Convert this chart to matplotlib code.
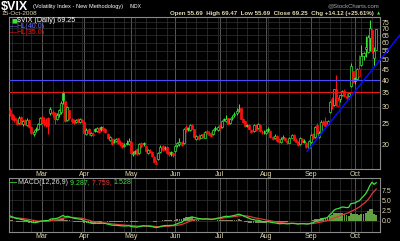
import numpy as np
import pandas as pd
import matplotlib
matplotlib.use("Agg")
import matplotlib.pyplot as plt
from matplotlib.ticker import NullLocator

plt.rcParams["font.family"] = ["Liberation Sans", "DejaVu Sans"]

# trading days 8 Feb - 15 Oct 2008 (NYSE holidays removed)
holidays = ["2008-02-18", "2008-03-21", "2008-05-26", "2008-07-04", "2008-09-01"]
month_names = ["Mar", "Apr", "May", "Jun", "Jul", "Aug", "Sep", "Oct"]

# $VIX daily candles (Feb, Mar, Apr, May, Jun, Jul, Aug, Sep, Oct)
opens = [
    28.9, 27.6, 26.6, 26.1, 25.2, 26.9, 24.8, 25.9, 24.6, 26.0, 24.2, 22.3, 23.6, 23.5, 25.0,
    26.8, 25.9, 25.3, 26.5, 27.9, 28.4, 28.0, 26.4, 27.6, 28.2, 35.0, 31.9, 26.0, 28.9, 26.2, 25.9, 25.4, 26.2, 25.5, 26.0,
    25.4, 22.3, 23.6, 22.2, 22.0, 23.5, 23.0, 23.9, 24.0, 23.8, 23.6, 22.4, 21.0, 21.2, 20.4, 20.7, 21.4, 20.6, 20.2, 19.7, 20.3, 20.0,
    20.5, 18.0, 18.6, 18.9, 18.1, 20.2, 20.3, 19.6, 18.2, 18.5, 18.3, 17.4, 16.2, 17.0, 18.3, 19.6, 19.3, 19.5, 18.4, 18.3, 18.1,
    18.6, 19.8, 20.1, 20.6, 20.2, 24.0, 23.9, 23.4, 24.7, 23.5, 21.2, 21.9, 21.4, 22.3, 21.4, 23.1, 22.2, 22.6, 22.3, 23.9, 23.4,
    24.5, 24.1, 26.4, 25.6, 26.5, 25.1, 26.5, 27.3, 27.9, 29.0, 29.6, 26.3, 25.6, 24.7, 24.6, 23.4, 23.0, 24.6, 23.8, 24.6, 22.6, 22.8,
    22.6, 23.6, 23.2, 21.7, 21.3, 21.9, 20.9, 20.4, 21.4, 21.5, 20.8, 20.3, 21.5, 22.1, 21.0, 20.5, 20.0, 21.2, 20.8, 20.3, 19.3,
    20.5, 22.3, 21.6, 24.5, 21.7, 22.9, 25.4, 25.6, 24.8, 28.2, 32.6, 30.6, 36.5, 30.4, 32.6, 34.1, 35.4, 33.7, 33.6, 37.4, 44.3,
    40.8, 40.5, 41.9, 47.0, 51.8, 56.0, 54.5, 63.0, 68.5, 50.8, 55.69,
]
highs = [
    29.6, 28.1, 27.4, 26.4, 27.0, 27.2, 26.0, 26.3, 26.7, 26.4, 24.4, 23.4, 24.1, 25.3, 26.9,
    27.5, 26.9, 26.5, 26.9, 29.8, 29.0, 28.3, 27.9, 29.4, 31.8, 35.6, 32.0, 30.1, 29.0, 26.6, 26.4, 26.4, 26.6, 26.7, 26.4,
    25.6, 23.9, 23.8, 22.9, 22.8, 23.9, 24.2, 24.2, 24.3, 24.4, 23.9, 22.6, 21.9, 21.3, 21.1, 21.5, 21.5, 20.9, 20.4, 20.3, 20.9, 21.3,
    20.6, 18.6, 18.8, 19.1, 20.3, 20.5, 20.6, 19.8, 19.0, 18.9, 18.5, 17.6, 16.8, 18.4, 19.8, 19.9, 19.6, 19.6, 18.6, 18.5, 18.3,
    19.9, 20.6, 21.3, 20.8, 23.9, 24.5, 24.2, 24.9, 24.9, 23.7, 22.1, 22.3, 22.3, 22.5, 23.2, 23.4, 23.2, 22.8, 23.6, 24.3, 24.3,
    25.2, 26.1, 26.7, 27.4, 26.7, 26.5, 27.4, 28.4, 29.5, 31.0, 29.7, 26.6, 25.8, 25.0, 24.9, 23.6, 24.8, 24.8, 25.1, 24.8, 23.3, 23.4,
    23.5, 24.2, 23.4, 21.9, 22.3, 22.1, 21.3, 21.6, 22.0, 21.7, 21.0, 21.6, 22.4, 22.3, 21.3, 20.8, 21.7, 21.5, 21.1, 20.6, 20.9,
    22.4, 22.5, 24.3, 25.1, 23.1, 25.9, 26.1, 26.8, 26.0, 31.8, 33.5, 36.5, 42.2, 33.4, 34.1, 36.0, 36.2, 34.9, 35.0, 48.4, 44.4,
    41.6, 45.6, 52.6, 58.2, 54.2, 64.3, 64.9, 76.9, 69.5, 57.5, 69.47,
]
lows = [
    27.2, 26.0, 25.4, 24.6, 24.9, 24.8, 24.4, 24.5, 24.3, 23.8, 22.4, 21.9, 22.8, 23.3, 24.8,
    25.1, 24.3, 24.0, 22.3, 27.5, 26.8, 24.9, 25.9, 26.9, 27.8, 30.9, 25.5, 25.6, 26.0, 25.2, 24.9, 25.1, 25.2, 25.2, 25.3,
    22.5, 22.0, 22.2, 21.9, 21.8, 22.9, 22.8, 22.6, 23.1, 23.0, 22.6, 21.1, 20.8, 19.9, 20.2, 20.4, 20.1, 19.7, 19.3, 19.4, 19.8, 19.9,
    18.0, 17.6, 18.0, 17.8, 18.0, 19.3, 19.7, 18.3, 17.9, 18.1, 17.5, 16.3, 16.2, 16.9, 18.1, 18.6, 18.8, 18.0, 17.7, 17.6, 17.4,
    18.4, 19.4, 19.7, 19.6, 20.1, 22.9, 23.0, 23.2, 23.5, 21.4, 21.0, 21.0, 21.3, 21.4, 21.3, 22.4, 22.0, 21.7, 22.1, 23.2, 23.1,
    23.4, 23.9, 25.6, 25.4, 24.8, 24.9, 26.0, 26.9, 27.5, 28.3, 26.2, 25.2, 24.2, 24.0, 23.5, 22.5, 22.8, 23.2, 23.6, 22.8, 22.3, 22.4,
    22.4, 22.9, 21.4, 20.9, 21.1, 20.5, 20.2, 20.3, 21.1, 20.7, 20.1, 20.2, 21.3, 20.7, 20.4, 19.6, 19.9, 20.4, 20.3, 19.1, 19.2,
    20.2, 21.1, 21.5, 22.3, 21.3, 22.7, 24.5, 24.1, 24.6, 27.9, 29.2, 30.3, 30.1, 30.2, 31.6, 33.7, 33.4, 32.4, 32.5, 37.2, 38.9,
    38.5, 40.2, 41.4, 46.4, 49.6, 51.2, 53.6, 54.9, 53.6, 46.5, 55.69,
]
closes = [
    28.0, 26.3, 25.9, 25.0, 26.7, 25.0, 25.6, 24.9, 25.9, 24.0, 22.6, 22.9, 23.4, 24.9, 26.5,
    25.5, 24.9, 24.6, 24.3, 29.4, 27.6, 26.3, 27.3, 28.9, 31.2, 32.2, 25.8, 29.8, 26.6, 25.8, 25.3, 25.9, 25.7, 26.3, 25.6,
    22.7, 23.4, 22.5, 22.5, 22.4, 23.2, 23.8, 22.9, 23.5, 23.3, 22.8, 21.3, 21.6, 20.1, 20.6, 21.2, 20.3, 20.0, 19.5, 19.9, 20.1, 20.8,
    18.2, 18.2, 18.3, 18.0, 20.0, 19.7, 20.0, 18.5, 18.8, 18.4, 17.6, 16.5, 16.4, 18.1, 19.4, 18.8, 19.1, 18.1, 17.9, 18.0, 17.8,
    19.6, 20.3, 20.4, 19.9, 23.6, 23.4, 23.6, 24.6, 23.7, 21.6, 21.8, 21.2, 22.0, 21.6, 22.8, 22.6, 22.4, 21.9, 23.4, 23.5, 24.0,
    23.9, 25.8, 26.0, 26.2, 25.0, 26.3, 26.9, 27.8, 28.6, 29.3, 26.4, 25.5, 24.4, 24.4, 23.7, 22.8, 24.5, 23.4, 24.9, 23.0, 22.7, 22.9,
    23.1, 23.4, 21.6, 21.2, 21.9, 20.7, 20.5, 21.2, 21.6, 20.9, 20.4, 21.3, 22.0, 20.9, 20.6, 19.8, 21.4, 20.6, 20.6, 19.4, 20.7,
    22.0, 21.4, 24.0, 22.6, 22.6, 25.5, 24.9, 24.4, 25.7, 31.7, 30.3, 36.2, 33.1, 32.1, 33.9, 35.7, 33.8, 32.8, 34.7, 46.7, 39.4,
    39.8, 45.3, 45.1, 52.1, 53.7, 57.5, 63.9, 69.95, 55.0, 55.1, 69.25,
]

# MACD(12,26,9) panel
macd_line = [
    1.2, 1.0, 0.8, 0.6, 0.55, 0.4, 0.3, 0.15, 0.1, -0.05, -0.25, -0.35, -0.4, -0.3, -0.1,
    0.0, 0.05, 0.1, 0.1, 0.45, 0.55, 0.55, 0.65, 0.8, 1.1, 1.35, 1.0, 1.15, 1.0, 0.85, 0.7, 0.6, 0.5, 0.45, 0.35,
    0.0, -0.15, -0.35, -0.5, -0.6, -0.6, -0.55, -0.6, -0.55, -0.55, -0.6, -0.75, -0.85, -1.0, -1.05, -1.05, -1.1, -1.15, -1.2, -1.2, -1.2, -1.15,
    -1.3, -1.4, -1.45, -1.5, -1.35, -1.25, -1.15, -1.2, -1.2, -1.25, -1.35, -1.5, -1.6, -1.5, -1.3, -1.2, -1.1, -1.1, -1.1, -1.05, -1.05,
    -0.85, -0.65, -0.45, -0.35, 0.1, 0.4, 0.6, 0.9, 1.0, 0.85, 0.75, 0.6, 0.55, 0.45, 0.5, 0.5, 0.45, 0.35, 0.45, 0.55, 0.7,
    0.75, 0.9, 1.05, 1.15, 1.1, 1.15, 1.25, 1.35, 1.5, 1.65, 1.5, 1.3, 1.05, 0.85, 0.65, 0.4, 0.35, 0.2, 0.2, 0.05, -0.1, -0.2,
    -0.2, -0.15, -0.3, -0.4, -0.45, -0.55, -0.65, -0.65, -0.6, -0.65, -0.7, -0.65, -0.55, -0.6, -0.65, -0.75, -0.65, -0.65, -0.65, -0.75, -0.7,
    -0.55, -0.45, -0.15, -0.05, 0.05, 0.45, 0.6, 0.7, 0.85, 1.5, 1.9, 2.6, 2.9, 3.0, 3.2, 3.4, 3.35, 3.25, 3.3, 4.2, 4.3,
    4.4, 4.7, 4.9, 5.5, 6.0, 6.6, 7.5, 8.6, 9.4, 8.9, 9.287,
]
signal_line = [
    0.85, 0.85, 0.8, 0.75, 0.7, 0.65, 0.6, 0.5, 0.45, 0.35, 0.25, 0.15, 0.05, 0.0, -0.05,
    -0.05, -0.05, -0.05, -0.05, 0.05, 0.15, 0.25, 0.3, 0.4, 0.55, 0.7, 0.75, 0.85, 0.85, 0.85, 0.85, 0.8, 0.75, 0.7, 0.65,
    0.5, 0.35, 0.2, 0.05, -0.1, -0.2, -0.25, -0.35, -0.4, -0.45, -0.5, -0.55, -0.6, -0.7, -0.75, -0.8, -0.85, -0.9, -0.95, -1.0, -1.05, -1.05,
    -1.1, -1.15, -1.2, -1.25, -1.25, -1.25, -1.25, -1.25, -1.25, -1.25, -1.25, -1.3, -1.35, -1.4, -1.4, -1.35, -1.3, -1.25, -1.25, -1.2, -1.15,
    -1.1, -1.05, -0.95, -0.85, -0.65, -0.45, -0.25, -0.05, 0.15, 0.3, 0.4, 0.45, 0.5, 0.5, 0.5, 0.5, 0.5, 0.45, 0.45, 0.5, 0.55,
    0.6, 0.65, 0.75, 0.85, 0.9, 0.95, 1.0, 1.1, 1.15, 1.25, 1.3, 1.3, 1.25, 1.2, 1.1, 1.0, 0.85, 0.75, 0.65, 0.55, 0.45, 0.35,
    0.25, 0.15, 0.05, -0.05, -0.15, -0.25, -0.35, -0.4, -0.45, -0.5, -0.55, -0.6, -0.6, -0.6, -0.6, -0.65, -0.65, -0.65, -0.65, -0.65, -0.65,
    -0.65, -0.62, -0.55, -0.45, -0.35, -0.25, -0.1, 0.0, 0.1, 0.3, 0.5, 0.7, 0.9, 1.1, 1.3, 1.5, 1.7, 1.85, 2.0, 2.3, 2.55,
    2.8, 3.1, 3.4, 3.8, 4.2, 4.6, 5.1, 5.8, 6.6, 7.2, 7.759,
]

hl_levels = [40.0, 35.0]
trend_days = [140.3, 184.3]
trend_values = [18.5, 65.3]
price_ticks = [20, 25, 30, 35, 40, 45, 50, 55, 60, 65, 70, 75]
macd_ticks = [0.0, 2.5, 5.0, 7.5]

GREEN = "#3ae43a"
RED = "#ff1010"
BEIGE = "#e0d8b0"
W, H = 400, 241


def fx(px):
    return px / W


def fy(py):
    return 1 - py / H


dates = pd.bdate_range("2008-02-08", "2008-10-15")
dates = dates[~dates.isin(pd.to_datetime(holidays))]
idx = np.arange(len(dates))
o, h, l, c = (np.array(a) for a in (opens, highs, lows, closes))
month_starts = [i for i in idx[1:] if dates[i].month != dates[i - 1].month]
week_starts = [i for i in idx[1:] if dates[i].dayofweek < dates[i - 1].dayofweek]

fig = plt.figure(figsize=(W / 100, H / 100), dpi=100, facecolor="black")
ax = fig.add_axes([fx(9), fy(169), fx(371), (169 - 17) / H], facecolor="black")
ax2 = fig.add_axes([fx(9), fy(231.5), fx(371), (231.5 - 178) / H], facecolor="black")

for a in (ax, ax2):
    for i in week_starts:
        a.axvline(i, color="#2e2e2e", lw=0.55, zorder=0)
    for i in month_starts:
        a.axvline(i, color="#5c5c5c", lw=0.65, zorder=0)
    for s in a.spines.values():
        s.set_color("#8a8a8a")
        s.set_linewidth(0.8)
    a.set_xlim(-0.6, 174.8)
    a.set_xticks(month_starts)
    a.set_xticklabels(month_names)
    a.tick_params(axis="both", length=0, colors=BEIGE, labelsize=5, pad=1.2)
    a.yaxis.tick_right()
    a.yaxis.grid(True, color="#333333", lw=0.5)
    a.set_axisbelow(True)

# --- price panel
ax.set_yscale("log")
ax.set_ylim(15.3, 79.2)
ax.yaxis.set_minor_locator(NullLocator())
ax.set_yticks(price_ticks)
ax.set_yticklabels([str(t) for t in price_ticks])

prev = np.r_[np.inf, c[:-1]]
col = np.where(c >= prev, GREEN, RED)
hollow = c > o
ax.vlines(idx, l, h, colors=col, lw=0.75, zorder=2)
ax.bar(idx, np.abs(c - o), bottom=np.minimum(o, c), width=0.95,
       color=np.where(hollow, "black", col), edgecolor=col, linewidth=0.5, zorder=3)

ax.axhline(hl_levels[0], color="#4a4aff", lw=0.8, zorder=4)
ax.axhline(hl_levels[1], color="#e81818", lw=0.8, zorder=4)
ax.plot(trend_days, trend_values, color="#0a0aff", lw=1.1, clip_on=False, zorder=5)

# legend
fig.text(fx(11), fy(20.5), "\u25a0", color=GREEN, fontsize=4.4, va="center", family="DejaVu Sans")
fig.text(fx(17), fy(20.5), "$VIX (Daily) 69.25", color="white", fontsize=5.1, va="center")
fig.text(fx(10.5), fy(26.5), "\u2014", color="#6a6aff", fontsize=5, va="center")
fig.text(fx(16), fy(26.5), "HL(40.0)", color="#6a6aff", fontsize=5.1, va="center")
fig.text(fx(10.5), fy(32.5), "\u2014", color=RED, fontsize=5, va="center")
fig.text(fx(16), fy(32.5), "HL(35.0)", color=RED, fontsize=5.1, va="center")

# --- MACD panel
m = np.array(macd_line)
s = np.array(signal_line)
hist = m - s
ax2.set_ylim(-2.55, 10.44)
ax2.set_yticks(macd_ticks)
ax2.set_yticklabels([f"{t:.1f}" for t in macd_ticks])
ax2.bar(idx, hist, width=0.85, color=np.where(hist > 0.9, "#62a042", "#8c8468"), zorder=2)
ax2.plot(idx, s, color="#e03838", lw=0.9, zorder=3)
ax2.plot(idx, m, color=GREEN, lw=0.9, zorder=4)

fig.text(fx(10.5), fy(183), "\u2014", color=GREEN, fontsize=5, va="center", fontweight="bold")
lx = 18
for txt, clr in [("MACD(12,26,9) ", "#d8d8d8"), ("9.287, ", GREEN), ("7.759, ", "#e03838"), ("1.528", GREEN)]:
    t = fig.text(fx(lx), fy(183), txt, color=clr, fontsize=5.1, va="center")
    fig.canvas.draw()
    lx += t.get_window_extent().width

# --- header
fig.text(fx(1), fy(6.5), "$VIX", color="white", fontsize=9, fontweight="bold", va="center")
fig.text(fx(33), fy(6.5), "(Volatility Index - New Methodology)", color="white", fontsize=4.1, va="center")
fig.text(fx(130), fy(6.5), "INDX", color="white", fontsize=3.6, va="center")
fig.text(fx(1), fy(13.5), "15-Oct-2008", color=BEIGE, fontsize=4.6, va="center")
fig.text(fx(374), fy(13.5), "Open 55.69  High 69.47  Low 55.69  Close 69.25  Chg +14.12 (+25.61%)",
         color=BEIGE, fontsize=4.45, fontweight="bold", ha="right", va="center")
fig.text(fx(378.5), fy(13.5), "\u25b2", color=GREEN, fontsize=3, ha="center", va="center", family="DejaVu Sans")
fig.text(fx(379), fy(5.5), "@StockCharts.com", color="#a8a8a8", fontsize=4.3, ha="right", va="center")

fig.savefig("out.png", dpi=100, facecolor="black")
